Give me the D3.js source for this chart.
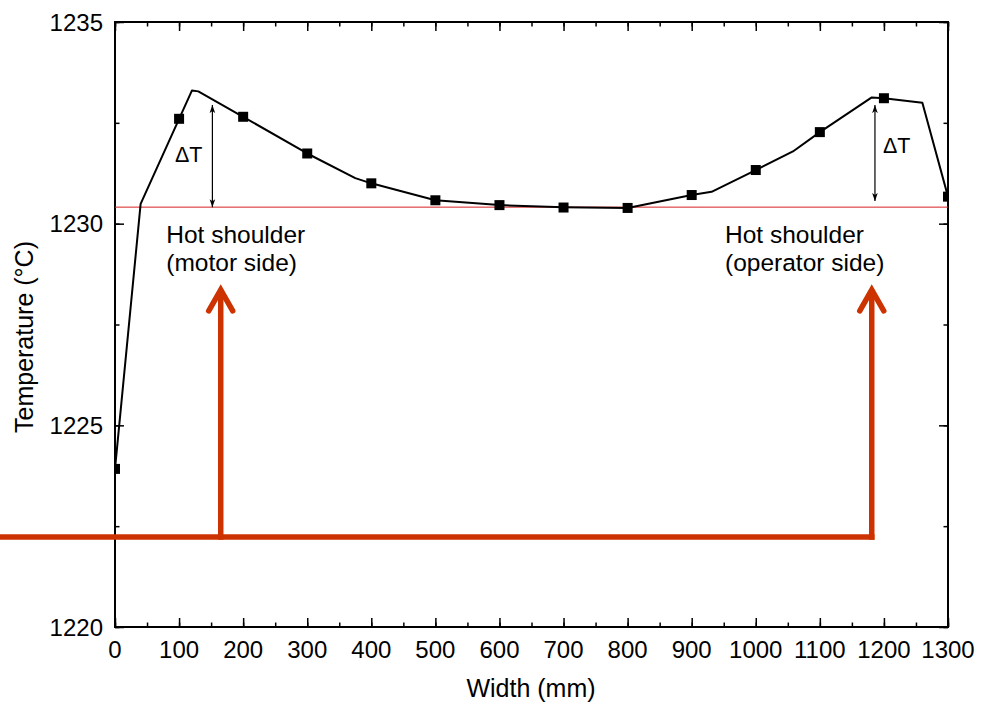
<!DOCTYPE html>
<html><head><meta charset="utf-8">
<script src="https://cdn.jsdelivr.net/npm/d3@7"></script>
<style>body{margin:0;background:#fff}svg{display:block}text{font-family:"Liberation Sans",Arial,sans-serif;fill:#000}</style>
</head><body><svg id="c" width="999" height="707"></svg>
<script>
// measured points (squares)
const measX = [0,100,200,300,400,500,600,700,800,900,1000,1100,1200,1300];
const measT = [1223.92,1232.6,1232.65,1231.74,1231.0,1230.58,1230.46,1230.4,1230.39,1230.71,1231.33,1232.27,1233.11,1230.67];
// model line
const lineX = [0,40,120,130,200,300,375,400,500,600,700,800,900,931,1000,1058,1100,1181,1200,1260,1300];
const lineT = [1223.92,1230.49,1233.3,1233.28,1232.65,1231.74,1231.13,1231.0,1230.58,1230.46,1230.41,1230.39,1230.71,1230.79,1231.33,1231.79,1232.27,1233.13,1233.11,1233.0,1230.67];
const refT = 1230.41;
const xTicks = [0,100,200,300,400,500,600,700,800,900,1000,1100,1200,1300];
const yTicks = [1220,1225,1230,1235];
const dtLeft = {x:152, top:1232.94, bottom:1230.41};
const dtRight = {x:1186, top:1232.94, bottom:1230.56};
const hotLeft = {x:80, lines:["Hot shoulder","(motor side)"]};
const hotRight = {x:952, lines:["Hot shoulder","(operator side)"]};
const orangeY = 1222.23, orangeStart = -180, arrowXs = [165,1181], arrowTip = 1228.41;

const svg = d3.select("#c");
const L=115,R=948,T=22,B=627;
const x = d3.scaleLinear().domain([0,1300]).range([L,R]);
const y = d3.scaleLinear().domain([1220,1235]).range([B,T]);

svg.append("defs").append("clipPath").attr("id","clip").append("rect")
  .attr("x",L).attr("y",T).attr("width",R-L).attr("height",B-T);

const minorX = d3.range(0,1301,50), minorY = d3.range(1220,1235.01,2.5);
function ax(axisFn, scale, vals, size, tr){
  const g = svg.append("g").attr("transform",tr)
    .call(axisFn(scale).tickValues(vals).tickSize(size).tickFormat(""));
  g.select(".domain").remove();
  g.selectAll(".tick line").attr("stroke","#000").attr("stroke-width",1.5);
  return g;
}
ax(d3.axisTop,x,minorX,4.5,`translate(0,${B})`);
ax(d3.axisTop,x,xTicks,9,`translate(0,${B})`);
xTicks.forEach(v=>svg.append("text").attr("x",x(v)).attr("y",658).attr("text-anchor","middle").attr("font-size",24).text(v));
ax(d3.axisBottom,x,minorX,4.5,`translate(0,${T})`);
ax(d3.axisBottom,x,xTicks,9,`translate(0,${T})`);
ax(d3.axisRight,y,minorY,4.5,`translate(${L},0)`);
ax(d3.axisRight,y,yTicks,9,`translate(${L},0)`);
yTicks.forEach(v=>svg.append("text").attr("x",103).attr("y",y(v)+8.5).attr("text-anchor","end").attr("font-size",24).text(v));
ax(d3.axisLeft,y,minorY,4.5,`translate(${R},0)`);
ax(d3.axisLeft,y,yTicks,9,`translate(${R},0)`);

svg.append("rect").attr("x",L).attr("y",T).attr("width",R-L).attr("height",B-T)
  .attr("fill","none").attr("stroke","#000").attr("stroke-width",2);

svg.append("line").attr("x1",L).attr("x2",R).attr("y1",y(refT)).attr("y2",y(refT))
  .attr("stroke","#d82020").attr("stroke-width",1);

const plot = svg.append("g").attr("clip-path","url(#clip)");
const pts = lineX.map((v,i)=>[v,lineT[i]]);
plot.append("path").attr("d",d3.line().x(d=>x(d[0])).y(d=>y(d[1]))(pts))
  .attr("fill","none").attr("stroke","#000").attr("stroke-width",2).attr("stroke-linejoin","round");
plot.selectAll("rect.m").data(measX.map((v,i)=>[v,measT[i]])).enter().append("rect")
  .attr("x",d=>x(d[0])-5).attr("y",d=>y(d[1])-5).attr("width",10).attr("height",10).attr("fill","#000");

const defs = svg.select("defs");
defs.append("marker").attr("id","ah").attr("viewBox","0 0 10 10").attr("refX",10).attr("refY",5)
  .attr("markerWidth",8).attr("markerHeight",8).attr("markerUnits","userSpaceOnUse").attr("orient","auto-start-reverse")
  .append("path").attr("d","M0,1.5 L10,5 L0,8.5 L2.5,5 Z").attr("fill","#000");
[dtLeft,dtRight].forEach(d=>{
  svg.append("line").attr("x1",x(d.x)).attr("x2",x(d.x)).attr("y1",y(d.top)).attr("y2",y(d.bottom))
    .attr("stroke","#000").attr("stroke-width",1.2).attr("marker-start","url(#ah)").attr("marker-end","url(#ah)");
});
svg.append("text").attr("x",175).attr("y",162).attr("font-size",21.5).text("ΔT");
svg.append("text").attr("x",883).attr("y",153).attr("font-size",21.5).text("ΔT");

[hotLeft,hotRight].forEach(h=>{
  const t = svg.append("text").attr("x",x(h.x)).attr("y",243).attr("font-size",24.5);
  h.lines.forEach((s,i)=>t.append("tspan").attr("x",x(h.x)).attr("dy",i?28:0).text(s));
});

const oc = "#cc3300";
svg.append("line").attr("x1",x(orangeStart)).attr("x2",x(arrowXs[1])+2.75).attr("y1",y(orangeY)).attr("y2",y(orangeY))
  .attr("stroke",oc).attr("stroke-width",5.5);
arrowXs.forEach(a=>{
  svg.append("line").attr("x1",x(a)).attr("x2",x(a)).attr("y1",y(orangeY)+2.75).attr("y2",y(arrowTip)+2)
    .attr("stroke",oc).attr("stroke-width",5.5);
  svg.append("path").attr("d",`M${x(a)-12},${y(arrowTip)+23} L${x(a)},${y(arrowTip)+2} L${x(a)+12},${y(arrowTip)+23}`)
    .attr("fill","none").attr("stroke",oc).attr("stroke-width",5.5).attr("stroke-linecap","round").attr("stroke-linejoin","miter");
});

svg.append("text").attr("x",531).attr("y",697).attr("text-anchor","middle").attr("font-size",25).text("Width (mm)");
svg.append("text").attr("transform",`translate(33,337) rotate(-90)`).attr("text-anchor","middle").attr("font-size",25).text("Temperature (°C)");
</script></body></html>
